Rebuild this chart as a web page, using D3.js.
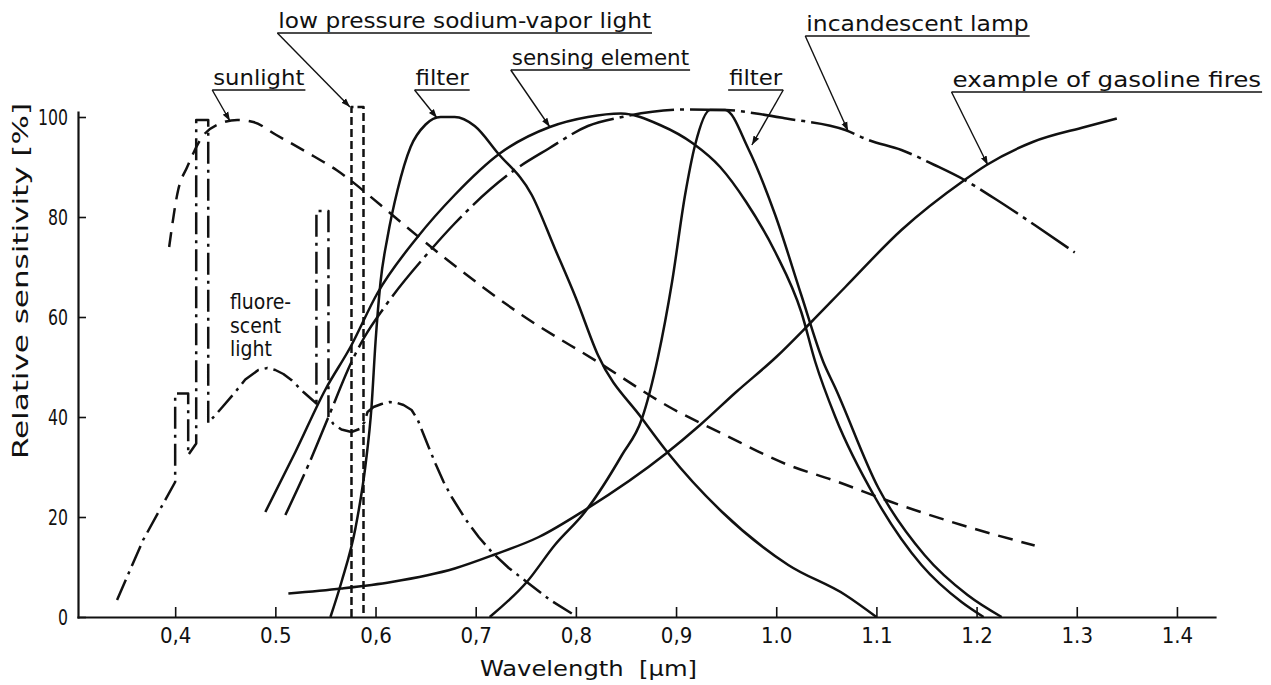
<!DOCTYPE html>
<html>
<head>
  <title>Relative sensitivity vs wavelength</title>
  <script src="https://d3js.org/d3.v7.min.js"></script>
  <style>
    body { margin: 0; background: #fff; }
    text { font-family: "DejaVu Sans Condensed", "DejaVu Sans", sans-serif; font-stretch: condensed; fill: #111; }
    .curve { fill: none; stroke: #111; stroke-width: 2.5; stroke-linejoin: round; }
    .axis path, .axis line { stroke: #111; }
    .axis path { stroke-width: 2.2; }
    .axis line { stroke-width: 1.6; }
    .leader { stroke: #111; stroke-width: 1.4; fill: none; }
  </style>
</head>
<body>
  <svg id="chart"></svg>

  <script>
    // axis ticks
    var xTicks = [0.4, 0.5, 0.6, 0.7, 0.8, 0.9, 1.0, 1.1, 1.2, 1.3, 1.4];
    var xTickLabels = ['0,4', '0.5', '0,6', '0,7', '0,8', '0,9', '1.0', '1.1', '1.2', '1.3', '1.4'];
    var yTicks = [0, 20, 40, 60, 80, 100];

    // curves: [wavelength (um), relative sensitivity (%)]
    var sunlight = [[0.394,74],[0.403,85.4],[0.412,90],[0.427,96],[0.445,98.7],[0.462,99.4],[0.478,99],
      [0.501,96.4],[0.531,93],[0.561,89.4],[0.605,82.4],[0.631,78],[0.668,72],[0.746,60.4],[0.822,51],
      [0.896,41.7],[0.946,36.7],[1.012,30.4],[1.059,27.2],[1.115,23],[1.185,18.4],[1.258,14.3]];

    var fluorescent = [[0.342,3.4],[0.368,15.4],[0.400,27],[0.400,44.7],[0.413,44.7],[0.413,32.4],[0.421,34.7],
      [0.421,99.4],[0.433,99.4],[0.433,38.8],[0.445,41.5],[0.46,45],[0.47,47.5],[0.483,49.4],[0.492,49.8],
      [0.5,49.4],[0.508,48.6],[0.516,47.4],[0.528,45],[0.541,42.7],
      [0.541,81.2],[0.553,81.2],[0.553,40],[0.558,38.6],[0.566,37.5],[0.576,37],[0.584,37.6],[0.589,39],
      [0.592,41],[0.598,42],[0.606,42.6],[0.614,43],[0.62,42.9],[0.628,42.4],[0.636,41.4],[0.642,39.5],
      [0.646,37.5],[0.653,34],[0.66,30.6],[0.668,27],[0.676,24],[0.69,19.5],[0.703,16],[0.716,13],
      [0.733,9.8],[0.751,7],[0.775,3.3],[0.799,0.3]];

    var sodium = [[0.576,0],[0.576,102],[0.588,102],[0.588,0]];

    var filterLeft = [[0.555,0],[0.566,7],[0.58,17.8],[0.59,30.4],[0.596,42],[0.6,55],[0.605,67],[0.612,76],
      [0.622,85.4],[0.635,94],[0.65,98.5],[0.665,100],[0.679,100],[0.699,98.2],[0.722,92.8],[0.756,84.4],
      [0.779,73.7],[0.8,63.8],[0.822,52.4],[0.866,39.7],[0.892,32.8],[0.946,21],[1.012,10.4],
      [1.069,4.4],[1.1,0]];

    var sensing = [[0.49,21],[0.52,33],[0.55,45.5],[0.575,54],[0.602,64.8],[0.642,76],[0.679,84.4],[0.724,92.7],
      [0.774,98],[0.812,100],[0.845,100.7],[0.884,98.4],[0.917,94.7],[0.944,90],[0.97,83],[0.999,73],
      [1.025,61],[1.039,51],[1.059,40],[1.099,23.8],[1.145,10.4],[1.185,3],[1.207,0]];

    var incandescent = [[0.51,20.4],[0.533,30.4],[0.553,40],[0.576,51],[0.589,56],[0.609,62],[0.655,73.4],
      [0.679,78.7],[0.736,89],[0.773,93.7],[0.812,98.2],[0.846,100],[0.91,101.5],[0.95,101.4],[0.98,100.7],
      [1.01,99.7],[1.069,97.4],[1.092,95.4],[1.125,93.4],[1.158,90.4],[1.188,87.4],[1.218,83.7],
      [1.258,78.4],[1.298,72.9]];

    var filterRight = [[0.714,0],[0.751,7],[0.779,14.4],[0.809,21],[0.846,32.4],[0.866,39.7],
      [0.882,52],[0.896,67],[0.909,84.4],[0.919,94.4],[0.934,101.4],[0.949,101.4],[0.972,93.7],[0.999,80.4],
      [1.025,64.4],[1.047,51],[1.059,45.8],[1.102,25.8],[1.148,12.4],[1.191,4.4],[1.225,0]];

    var gasoline = [[0.513,4.7],[0.566,5.7],[0.616,7],[0.679,9.7],[0.719,12.5],[0.763,16],[0.809,21.4],
      [0.89,32.7],[0.924,38.4],[0.96,45],[1.0,52],[1.035,59],[1.069,66],[1.125,77.4],[1.188,87.4],
      [1.21,90.4],[1.256,95],[1.308,98],[1.34,99.7]];

    // labels with underline [x0, x1] at height y and a leader to tip
    var labels = [
      { text: 'sunlight', x0: 0.437, x1: 0.530, y: 105.4, from: 0.437, tip: [0.4547, 99.2] },
      { text: 'low pressure sodium-vapor light', x0: 0.502, x1: 0.876, y: 116.8, from: 0.502, tip: [0.5745, 102] },
      { text: 'filter', x0: 0.639, x1: 0.694, y: 105.4, from: 0.639, tip: [0.6614, 99.8] },
      { text: 'sensing element', x0: 0.735, x1: 0.914, y: 109.4, from: 0.735, tip: [0.774, 98] },
      { text: 'incandescent lamp', x0: 1.029, x1: 1.253, y: 116.2, from: 1.029, tip: [1.0717, 97.2] },
      { text: 'filter', x0: 0.952, x1: 1.007, y: 105.4, from: 1.007, tip: [0.9757, 94.4] },
      { text: 'example of gasoline fires', x0: 1.175, x1: 1.485, y: 105, from: 1.175, tip: [1.2112, 90.4] }
    ];
    var fluoLabel = ['fluore-', 'scent', 'light'];
    var fluoLabelPos = [0.4547, 61.6, 4.7];

    var svgWidth = 1271;
    var svgHeight = 685;

    var svg = d3.select('#chart')
      .attr('width', svgWidth)
      .attr('height', svgHeight);

    var x = d3.scaleLinear().domain([0.303, 1.438]).range([78, 1215]);
    var y = d3.scaleLinear().domain([0, 101]).range([617, 112]);

    svg.append('defs').append('marker')
      .attr('id', 'arrow')
      .attr('viewBox', '0 0 10 10')
      .attr('refX', 10).attr('refY', 5)
      .attr('markerWidth', 9).attr('markerHeight', 9)
      .attr('markerUnits', 'userSpaceOnUse')
      .attr('orient', 'auto')
      .append('path')
      .attr('d', 'M0,1.5 L10,5 L0,8.5 Z')
      .attr('fill', '#111');

    var xAxis = svg.append('g')
      .attr('class', 'axis')
      .attr('transform', 'translate(0,' + y(0) + ')')
      .call(d3.axisBottom(x).tickValues(xTicks).tickSize(-10).tickSizeOuter(0).tickPadding(10)
        .tickFormat(function(d, i) { return xTickLabels[i]; }));
    xAxis.selectAll('text').attr('font-size', 22);

    var yAxis = svg.append('g')
      .attr('class', 'axis')
      .attr('transform', 'translate(' + x(0.303) + ',0)')
      .call(d3.axisLeft(y).tickValues(yTicks).tickSize(-8).tickSizeOuter(0).tickPadding(10));
    // narrow digits like the original lettering
    yAxis.selectAll('text')
      .attr('font-size', 22)
      .attr('textLength', function(d) { return String(d).length * 10; })
      .attr('lengthAdjust', 'spacingAndGlyphs');
    svg.selectAll('.axis .domain').attr('stroke-linecap', 'square');

    svg.append('text')
      .attr('x', 480).attr('y', 676)
      .attr('font-size', 22)
      .attr('textLength', 217)
      .attr('lengthAdjust', 'spacingAndGlyphs')
      .style('white-space', 'pre')
      .text('Wavelength  [\u00b5m]');

    svg.append('text')
      .attr('transform', 'translate(28,281) rotate(-90)')
      .attr('x', -178)
      .attr('font-size', 22)
      .attr('textLength', 356)
      .attr('lengthAdjust', 'spacingAndGlyphs')
      .text('Relative sensitivity [%]');

    var smooth = d3.line()
      .x(function(d) { return x(d[0]); })
      .y(function(d) { return y(d[1]); })
      .curve(d3.curveMonotoneX);
    var straight = d3.line()
      .x(function(d) { return x(d[0]); })
      .y(function(d) { return y(d[1]); });

    var series = [
      { data: sunlight, dash: '15,9', line: smooth },
      { data: fluorescent, dash: '22,6,3,6', line: straight },
      { data: sodium, dash: '8,4', line: straight },
      { data: filterLeft, dash: null, line: smooth },
      { data: sensing, dash: null, line: smooth },
      { data: incandescent, dash: '45,6,4,6', line: smooth },
      { data: filterRight, dash: null, line: smooth },
      { data: gasoline, dash: null, line: smooth }
    ];

    svg.selectAll('.curve')
      .data(series)
      .enter().append('path')
      .attr('class', 'curve')
      .attr('d', function(d) { return d.line(d.data); })
      .attr('stroke-dasharray', function(d) { return d.dash; });

    var ann = svg.selectAll('.ann')
      .data(labels)
      .enter().append('g')
      .attr('class', 'ann');

    ann.append('line')
      .attr('class', 'leader')
      .attr('x1', function(d) { return x(d.x0); })
      .attr('x2', function(d) { return x(d.x1); })
      .attr('y1', function(d) { return y(d.y); })
      .attr('y2', function(d) { return y(d.y); });

    ann.append('line')
      .attr('class', 'leader')
      .attr('x1', function(d) { return x(d.from); })
      .attr('y1', function(d) { return y(d.y); })
      .attr('x2', function(d) { return x(d.tip[0]); })
      .attr('y2', function(d) { return y(d.tip[1]); })
      .attr('marker-end', 'url(#arrow)');

    ann.append('text')
      .attr('x', function(d) { return x(d.x0) + 1; })
      .attr('y', function(d) { return y(d.y) - 5; })
      .attr('font-size', 22)
      .attr('textLength', function(d) { return x(d.x1) - x(d.x0) - 2; })
      .attr('lengthAdjust', 'spacingAndGlyphs')
      .text(function(d) { return d.text; });

    svg.selectAll('.fluo')
      .data(fluoLabel)
      .enter().append('text')
      .attr('class', 'fluo')
      .attr('x', x(fluoLabelPos[0]))
      .attr('y', function(d, i) { return y(fluoLabelPos[1] - i * fluoLabelPos[2]); })
      .attr('font-size', 21)
      .text(function(d) { return d; });
  </script>
</body>
</html>
